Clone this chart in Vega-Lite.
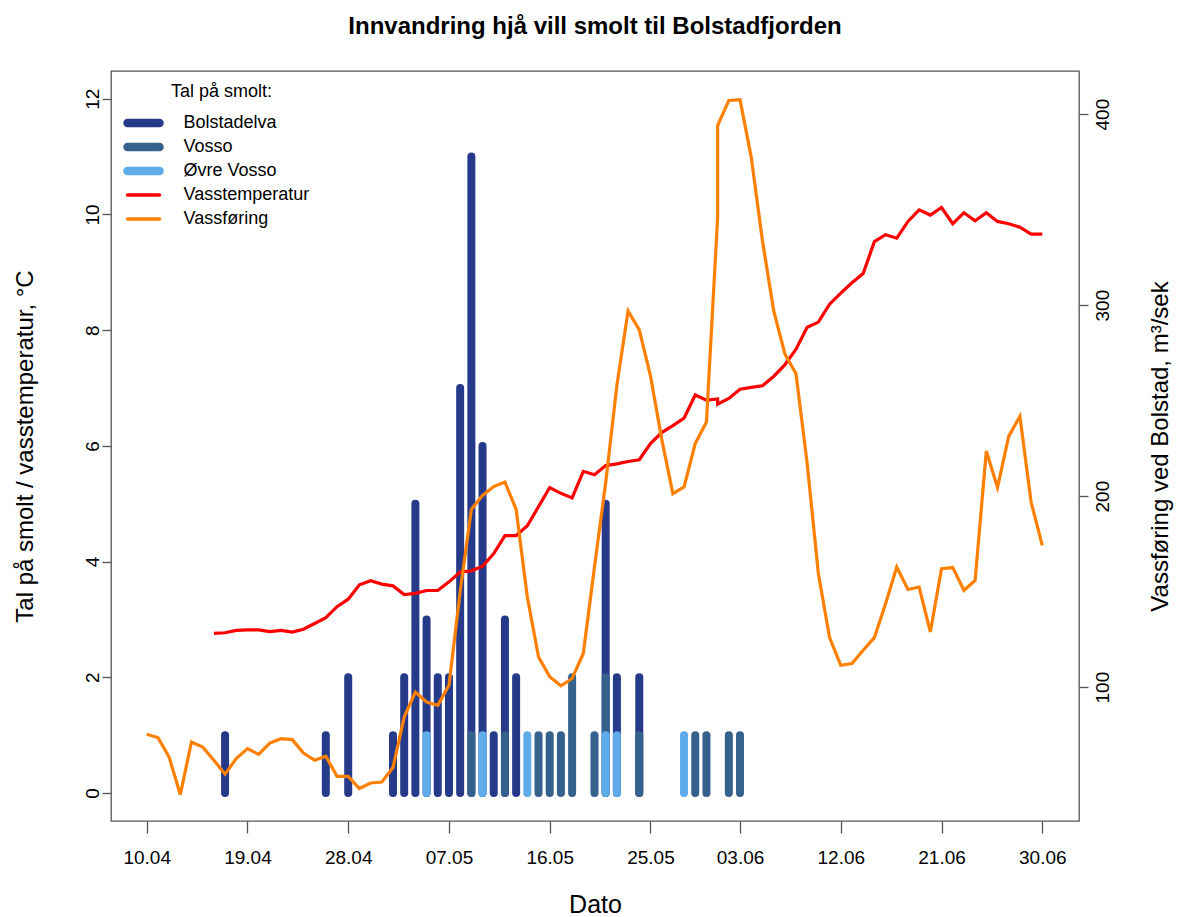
{
  "$schema": "https://vega.github.io/schema/vega-lite/v6.json",
  "width": 968,
  "height": 750,
  "autosize": {"type": "none"},
  "padding": {"left": 111, "top": 71, "right": 102, "bottom": 96},
  "background": "white",
  "config": {
    "font": "Liberation Sans",
    "view": {"stroke": "#555555", "strokeWidth": 1.3},
    "axis": {
      "domain": false,
      "grid": false,
      "tickColor": "#555555",
      "tickWidth": 1.3,
      "labelFontSize": 19,
      "labelColor": "black",
      "labelFont": "Liberation Sans",
      "titleFont": "Liberation Sans",
      "titleFontSize": 24,
      "titleFontWeight": "normal",
      "titleColor": "black"
    }
  },
  "title": {
    "text": "Innvandring hjå vill smolt til Bolstadfjorden",
    "font": "Liberation Sans",
    "fontSize": 24,
    "fontWeight": "bold",
    "color": "black",
    "anchor": "middle",
    "offset": 32
  },
  "datasets": {
    "smolt": [
      {"serie": "Bolstadelva", "dag": 107, "dato": "17.04", "antal": 1},
      {"serie": "Bolstadelva", "dag": 116, "dato": "26.04", "antal": 1},
      {"serie": "Bolstadelva", "dag": 118, "dato": "28.04", "antal": 2},
      {"serie": "Bolstadelva", "dag": 122, "dato": "02.05", "antal": 1},
      {"serie": "Bolstadelva", "dag": 123, "dato": "03.05", "antal": 2},
      {"serie": "Bolstadelva", "dag": 124, "dato": "04.05", "antal": 5},
      {"serie": "Bolstadelva", "dag": 125, "dato": "05.05", "antal": 3},
      {"serie": "Bolstadelva", "dag": 126, "dato": "06.05", "antal": 2},
      {"serie": "Bolstadelva", "dag": 127, "dato": "07.05", "antal": 2},
      {"serie": "Bolstadelva", "dag": 128, "dato": "08.05", "antal": 7},
      {"serie": "Bolstadelva", "dag": 129, "dato": "09.05", "antal": 11},
      {"serie": "Bolstadelva", "dag": 130, "dato": "10.05", "antal": 6},
      {"serie": "Bolstadelva", "dag": 131, "dato": "11.05", "antal": 1},
      {"serie": "Bolstadelva", "dag": 132, "dato": "12.05", "antal": 3},
      {"serie": "Bolstadelva", "dag": 133, "dato": "13.05", "antal": 2},
      {"serie": "Bolstadelva", "dag": 141, "dato": "21.05", "antal": 5},
      {"serie": "Bolstadelva", "dag": 142, "dato": "22.05", "antal": 2},
      {"serie": "Bolstadelva", "dag": 144, "dato": "24.05", "antal": 2},
      {"serie": "Vosso", "dag": 129, "dato": "09.05", "antal": 1},
      {"serie": "Vosso", "dag": 132, "dato": "12.05", "antal": 1},
      {"serie": "Vosso", "dag": 135, "dato": "15.05", "antal": 1},
      {"serie": "Vosso", "dag": 136, "dato": "16.05", "antal": 1},
      {"serie": "Vosso", "dag": 137, "dato": "17.05", "antal": 1},
      {"serie": "Vosso", "dag": 138, "dato": "18.05", "antal": 2},
      {"serie": "Vosso", "dag": 140, "dato": "20.05", "antal": 1},
      {"serie": "Vosso", "dag": 141, "dato": "21.05", "antal": 2},
      {"serie": "Vosso", "dag": 144, "dato": "24.05", "antal": 1},
      {"serie": "Vosso", "dag": 149, "dato": "29.05", "antal": 1},
      {"serie": "Vosso", "dag": 150, "dato": "30.05", "antal": 1},
      {"serie": "Vosso", "dag": 152, "dato": "02.06", "antal": 1},
      {"serie": "Vosso", "dag": 153, "dato": "03.06", "antal": 1},
      {"serie": "Øvre Vosso", "dag": 125, "dato": "05.05", "antal": 1},
      {"serie": "Øvre Vosso", "dag": 130, "dato": "10.05", "antal": 1},
      {"serie": "Øvre Vosso", "dag": 134, "dato": "14.05", "antal": 1},
      {"serie": "Øvre Vosso", "dag": 141, "dato": "21.05", "antal": 1},
      {"serie": "Øvre Vosso", "dag": 142, "dato": "22.05", "antal": 1},
      {"serie": "Øvre Vosso", "dag": 148, "dato": "28.05", "antal": 1}
    ],
    "temp": [
      {"dag": 106, "dato": "2017-04-16", "temp": 2.76},
      {"dag": 107, "dato": "2017-04-17", "temp": 2.77},
      {"dag": 108, "dato": "2017-04-18", "temp": 2.81},
      {"dag": 109, "dato": "2017-04-19", "temp": 2.82},
      {"dag": 110, "dato": "2017-04-20", "temp": 2.82},
      {"dag": 111, "dato": "2017-04-21", "temp": 2.79},
      {"dag": 112, "dato": "2017-04-22", "temp": 2.81},
      {"dag": 113, "dato": "2017-04-23", "temp": 2.78},
      {"dag": 114, "dato": "2017-04-24", "temp": 2.83},
      {"dag": 115, "dato": "2017-04-25", "temp": 2.93},
      {"dag": 116, "dato": "2017-04-26", "temp": 3.03},
      {"dag": 117, "dato": "2017-04-27", "temp": 3.22},
      {"dag": 118, "dato": "2017-04-28", "temp": 3.35},
      {"dag": 119, "dato": "2017-04-29", "temp": 3.60},
      {"dag": 120, "dato": "2017-04-30", "temp": 3.67},
      {"dag": 121, "dato": "2017-05-01", "temp": 3.61},
      {"dag": 122, "dato": "2017-05-02", "temp": 3.58},
      {"dag": 123, "dato": "2017-05-03", "temp": 3.43},
      {"dag": 124, "dato": "2017-05-04", "temp": 3.45},
      {"dag": 125, "dato": "2017-05-05", "temp": 3.50},
      {"dag": 126, "dato": "2017-05-06", "temp": 3.50},
      {"dag": 127, "dato": "2017-05-07", "temp": 3.65},
      {"dag": 128, "dato": "2017-05-08", "temp": 3.82},
      {"dag": 129, "dato": "2017-05-09", "temp": 3.84},
      {"dag": 130, "dato": "2017-05-10", "temp": 3.92},
      {"dag": 131, "dato": "2017-05-11", "temp": 4.14},
      {"dag": 132, "dato": "2017-05-12", "temp": 4.45},
      {"dag": 133, "dato": "2017-05-13", "temp": 4.45},
      {"dag": 134, "dato": "2017-05-14", "temp": 4.62},
      {"dag": 135, "dato": "2017-05-15", "temp": 4.95},
      {"dag": 136, "dato": "2017-05-16", "temp": 5.28},
      {"dag": 137, "dato": "2017-05-17", "temp": 5.18},
      {"dag": 138, "dato": "2017-05-18", "temp": 5.10},
      {"dag": 139, "dato": "2017-05-19", "temp": 5.56},
      {"dag": 140, "dato": "2017-05-20", "temp": 5.50},
      {"dag": 141, "dato": "2017-05-21", "temp": 5.66},
      {"dag": 142, "dato": "2017-05-22", "temp": 5.69},
      {"dag": 143, "dato": "2017-05-23", "temp": 5.73},
      {"dag": 144, "dato": "2017-05-24", "temp": 5.76},
      {"dag": 145, "dato": "2017-05-25", "temp": 6.04},
      {"dag": 146, "dato": "2017-05-26", "temp": 6.23},
      {"dag": 147, "dato": "2017-05-27", "temp": 6.35},
      {"dag": 148, "dato": "2017-05-28", "temp": 6.48},
      {"dag": 149, "dato": "2017-05-29", "temp": 6.88},
      {"dag": 150, "dato": "2017-05-30", "temp": 6.79},
      {"dag": 151, "dato": "2017-05-31", "temp": 6.81},
      {"dag": 151, "dato": "2017-06-01", "temp": 6.72},
      {"dag": 152, "dato": "2017-06-02", "temp": 6.82},
      {"dag": 153, "dato": "2017-06-03", "temp": 6.98},
      {"dag": 154, "dato": "2017-06-04", "temp": 7.01},
      {"dag": 155, "dato": "2017-06-05", "temp": 7.04},
      {"dag": 156, "dato": "2017-06-06", "temp": 7.20},
      {"dag": 157, "dato": "2017-06-07", "temp": 7.40},
      {"dag": 158, "dato": "2017-06-08", "temp": 7.67},
      {"dag": 159, "dato": "2017-06-09", "temp": 8.05},
      {"dag": 160, "dato": "2017-06-10", "temp": 8.14},
      {"dag": 161, "dato": "2017-06-11", "temp": 8.45},
      {"dag": 162, "dato": "2017-06-12", "temp": 8.64},
      {"dag": 163, "dato": "2017-06-13", "temp": 8.82},
      {"dag": 164, "dato": "2017-06-14", "temp": 8.98},
      {"dag": 165, "dato": "2017-06-15", "temp": 9.53},
      {"dag": 166, "dato": "2017-06-16", "temp": 9.65},
      {"dag": 167, "dato": "2017-06-17", "temp": 9.59},
      {"dag": 168, "dato": "2017-06-18", "temp": 9.88},
      {"dag": 169, "dato": "2017-06-19", "temp": 10.08},
      {"dag": 170, "dato": "2017-06-20", "temp": 9.99},
      {"dag": 171, "dato": "2017-06-21", "temp": 10.12},
      {"dag": 172, "dato": "2017-06-22", "temp": 9.84},
      {"dag": 173, "dato": "2017-06-23", "temp": 10.03},
      {"dag": 174, "dato": "2017-06-24", "temp": 9.89},
      {"dag": 175, "dato": "2017-06-25", "temp": 10.03},
      {"dag": 176, "dato": "2017-06-26", "temp": 9.88},
      {"dag": 177, "dato": "2017-06-27", "temp": 9.84},
      {"dag": 178, "dato": "2017-06-28", "temp": 9.78},
      {"dag": 179, "dato": "2017-06-29", "temp": 9.66},
      {"dag": 180, "dato": "2017-06-30", "temp": 9.66}
    ],
    "vass": [
      {"dag": 100, "dato": "2017-04-10", "vf": 75.3},
      {"dag": 101, "dato": "2017-04-11", "vf": 73.6},
      {"dag": 102, "dato": "2017-04-12", "vf": 63.4},
      {"dag": 103, "dato": "2017-04-13", "vf": 43.7},
      {"dag": 104, "dato": "2017-04-14", "vf": 71.3},
      {"dag": 105, "dato": "2017-04-15", "vf": 68.6},
      {"dag": 106, "dato": "2017-04-16", "vf": 61.7},
      {"dag": 107, "dato": "2017-04-17", "vf": 54.4},
      {"dag": 108, "dato": "2017-04-18", "vf": 62.6},
      {"dag": 109, "dato": "2017-04-19", "vf": 67.8},
      {"dag": 110, "dato": "2017-04-20", "vf": 64.8},
      {"dag": 111, "dato": "2017-04-21", "vf": 70.7},
      {"dag": 112, "dato": "2017-04-22", "vf": 73.0},
      {"dag": 113, "dato": "2017-04-23", "vf": 72.5},
      {"dag": 114, "dato": "2017-04-24", "vf": 65.5},
      {"dag": 115, "dato": "2017-04-25", "vf": 61.7},
      {"dag": 116, "dato": "2017-04-26", "vf": 63.8},
      {"dag": 117, "dato": "2017-04-27", "vf": 53.3},
      {"dag": 118, "dato": "2017-04-28", "vf": 53.3},
      {"dag": 119, "dato": "2017-04-29", "vf": 46.9},
      {"dag": 120, "dato": "2017-04-30", "vf": 49.8},
      {"dag": 121, "dato": "2017-05-01", "vf": 50.3},
      {"dag": 122, "dato": "2017-05-02", "vf": 57.9},
      {"dag": 123, "dato": "2017-05-03", "vf": 84.3},
      {"dag": 124, "dato": "2017-05-04", "vf": 97.4},
      {"dag": 125, "dato": "2017-05-05", "vf": 92.2},
      {"dag": 126, "dato": "2017-05-06", "vf": 90.5},
      {"dag": 127, "dato": "2017-05-07", "vf": 101.0},
      {"dag": 128, "dato": "2017-05-08", "vf": 150},
      {"dag": 129, "dato": "2017-05-09", "vf": 193},
      {"dag": 130, "dato": "2017-05-10", "vf": 200.4},
      {"dag": 131, "dato": "2017-05-11", "vf": 205},
      {"dag": 132, "dato": "2017-05-12", "vf": 207.4},
      {"dag": 133, "dato": "2017-05-13", "vf": 193},
      {"dag": 134, "dato": "2017-05-14", "vf": 147.2},
      {"dag": 135, "dato": "2017-05-15", "vf": 115.8},
      {"dag": 136, "dato": "2017-05-16", "vf": 105.4},
      {"dag": 137, "dato": "2017-05-17", "vf": 100.7},
      {"dag": 138, "dato": "2017-05-18", "vf": 104.5},
      {"dag": 139, "dato": "2017-05-19", "vf": 117.6},
      {"dag": 140, "dato": "2017-05-20", "vf": 163},
      {"dag": 141, "dato": "2017-05-21", "vf": 207},
      {"dag": 142, "dato": "2017-05-22", "vf": 258},
      {"dag": 143, "dato": "2017-05-23", "vf": 297},
      {"dag": 144, "dato": "2017-05-24", "vf": 287},
      {"dag": 145, "dato": "2017-05-25", "vf": 263},
      {"dag": 146, "dato": "2017-05-26", "vf": 230},
      {"dag": 147, "dato": "2017-05-27", "vf": 201.3},
      {"dag": 148, "dato": "2017-05-28", "vf": 204.8},
      {"dag": 149, "dato": "2017-05-29", "vf": 227.5},
      {"dag": 150, "dato": "2017-05-30", "vf": 238.8},
      {"dag": 151, "dato": "2017-05-31", "vf": 346},
      {"dag": 151, "dato": "2017-06-01", "vf": 394},
      {"dag": 152, "dato": "2017-06-02", "vf": 407.2},
      {"dag": 153, "dato": "2017-06-03", "vf": 407.6},
      {"dag": 154, "dato": "2017-06-04", "vf": 377.5},
      {"dag": 155, "dato": "2017-06-05", "vf": 333.9},
      {"dag": 156, "dato": "2017-06-06", "vf": 297.3},
      {"dag": 157, "dato": "2017-06-07", "vf": 274.6},
      {"dag": 158, "dato": "2017-06-08", "vf": 264.1},
      {"dag": 159, "dato": "2017-06-09", "vf": 217},
      {"dag": 160, "dato": "2017-06-10", "vf": 159.4},
      {"dag": 161, "dato": "2017-06-11", "vf": 125.9},
      {"dag": 162, "dato": "2017-06-12", "vf": 111.4},
      {"dag": 163, "dato": "2017-06-13", "vf": 112.3},
      {"dag": 164, "dato": "2017-06-14", "vf": 119.3},
      {"dag": 165, "dato": "2017-06-15", "vf": 125.9},
      {"dag": 166, "dato": "2017-06-16", "vf": 143.7},
      {"dag": 167, "dato": "2017-06-17", "vf": 162.9},
      {"dag": 168, "dato": "2017-06-18", "vf": 151.1},
      {"dag": 169, "dato": "2017-06-19", "vf": 152.4},
      {"dag": 170, "dato": "2017-06-20", "vf": 128.9},
      {"dag": 171, "dato": "2017-06-21", "vf": 162.0},
      {"dag": 172, "dato": "2017-06-22", "vf": 162.6},
      {"dag": 173, "dato": "2017-06-23", "vf": 150.7},
      {"dag": 174, "dato": "2017-06-24", "vf": 155.9},
      {"dag": 175, "dato": "2017-06-25", "vf": 223.6},
      {"dag": 176, "dato": "2017-06-26", "vf": 204.5},
      {"dag": 177, "dato": "2017-06-27", "vf": 231.3},
      {"dag": 178, "dato": "2017-06-28", "vf": 241.8},
      {"dag": 179, "dato": "2017-06-29", "vf": 196.9},
      {"dag": 180, "dato": "2017-06-30", "vf": 174.2}
    ]
  },
  "layer": [
    {
      "layer": [
        {
          "data": {"name": "smolt"},
          "mark": {"type": "rule", "strokeWidth": 8, "strokeCap": "round"},
          "encoding": {
            "x": {
              "field": "dag",
              "type": "quantitative",
              "scale": {"domain": [96.81, 183.28], "nice": false, "zero": false},
              "axis": {
                "title": "Dato",
                "values": [100, 109, 118, 127, 136, 145, 153, 162, 171, 180],
                "labelExpr": "(datum.value - 30*floor((datum.value-1)/30) < 10 ? '0' : '') + (datum.value - 30*floor((datum.value-1)/30)) + '.0' + (floor((datum.value-1)/30) + 1)",
                "tickSize": 12,
                "labelPadding": 15,
                "titlePadding": 25,
                "titleFontSize": 25
              }
            },
            "y": {
              "field": "antal",
              "type": "quantitative",
              "scale": {"domain": [-0.484, 12.48], "nice": false, "zero": false},
              "axis": {
                "title": "Tal på smolt / vasstemperatur, °C",
                "values": [0, 2, 4, 6, 8, 10, 12],
                "format": "d",
                "tickSize": 9,
                "labelAngle": -90,
                "labelAlign": "center",
                "labelBaseline": "bottom",
                "labelPadding": 0,
                "titlePadding": 46
              }
            },
            "y2": {"datum": 0},
            "color": {
              "field": "serie",
              "type": "nominal",
              "scale": {
                "domain": ["Bolstadelva", "Vosso", "Øvre Vosso", "Vasstemperatur", "Vassføring"],
                "range": ["#253B8A", "#35628C", "#5EACEA", "#FF0000", "#FF7F00"]
              },
              "legend": {
                "orient": "none",
                "legendX": 23.5,
                "legendY": 12,
                "title": "Tal på smolt:",
                "titleFont": "Liberation Sans",
                "titleFontSize": 18,
                "titleFontWeight": "normal",
                "titleColor": "black",
                "titleAnchor": "middle",
                "titlePadding": 13,
                "labelFont": "Liberation Sans",
                "labelFontSize": 18,
                "labelColor": "black",
                "labelOffset": 31,
                "rowPadding": 6,
                "symbolType": "M-2,0H2",
                "symbolSize": 256,
                "encode": {
                  "symbols": {
                    "update": {
                      "strokeWidth": {"signal": "datum.label === 'Vasstemperatur' || datum.label === 'Vassføring' ? 3.5 : 8.5"},
                      "strokeCap": {"value": "round"},
                      "strokeJoin": {"value": "round"}
                    }
                  }
                }
              }
            }
          }
        },
        {
          "data": {"name": "temp"},
          "mark": {"type": "line", "strokeWidth": 3.2},
          "encoding": {
            "x": {"field": "dag", "type": "quantitative"},
            "y": {"field": "temp", "type": "quantitative"},
            "order": {"field": "dato", "type": "temporal"},
            "color": {"datum": "Vasstemperatur"}
          }
        }
      ]
    },
    {
      "data": {"name": "vass"},
      "mark": {"type": "line", "strokeWidth": 3.2},
      "encoding": {
        "x": {"field": "dag", "type": "quantitative"},
        "y": {
          "field": "vf",
          "type": "quantitative",
          "scale": {"domain": [29.9, 422.6], "nice": false, "zero": false},
          "axis": {
            "orient": "right",
            "title": "Vassføring ved Bolstad, m³/sek",
            "values": [100, 200, 300, 400],
            "tickSize": 9,
            "labelAngle": -90,
            "labelAlign": "center",
            "labelBaseline": "top",
            "labelPadding": 5,
            "titleAngle": -90,
            "titleBaseline": "top",
            "titlePadding": 36
          }
        },
        "order": {"field": "dato", "type": "temporal"},
        "color": {"datum": "Vassføring"}
      }
    }
  ],
  "resolve": {"scale": {"y": "independent"}}
}
